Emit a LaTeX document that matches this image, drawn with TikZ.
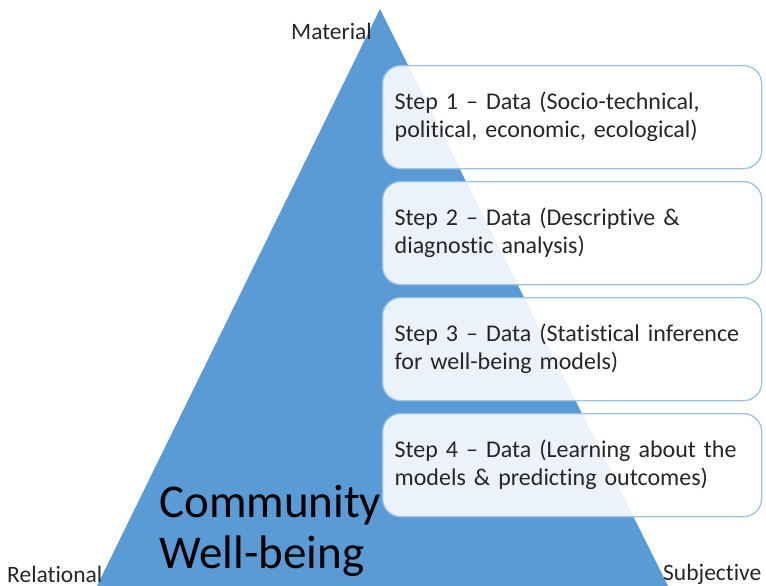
\documentclass[tikz,border=0pt]{standalone}
\usepackage{fontspec}
\setmainfont{Carlito}[Ligatures=NoCommon]
\definecolor{triblue}{HTML}{5B9BD5}
\definecolor{boxline}{HTML}{9DC3E6}
\definecolor{txt}{HTML}{262626}
\begin{document}
\begin{tikzpicture}[x=1pt,y=-1pt,
  stepbox/.style={draw=boxline, line width=1.3pt, fill=white, fill opacity=0.88, text opacity=1,
    rounded corners=18pt, minimum width=376pt, minimum height=103pt, anchor=north west,
    text width=355pt, align=left, inner xsep=12pt, text=txt,
    font=\fontsize{24}{28}\selectfont},
  corner/.style={text=txt, font=\fontsize{23.5}{26}\selectfont, inner sep=0pt, anchor=base west}]
\useasboundingbox (0,0) rectangle (766,586);
\begin{scope}
\clip (0,0) rectangle (766,586);
\fill[triblue] (380,9) -- (94,592) -- (671,592) -- cycle;
\end{scope}
\node[corner] (mat) at (291,40) {Material};
\node[corner] (rel) at (7,582) {Relational};
\node[corner] (sub) at (663,580) {Subjective};
\node[anchor=base west, inner sep=0pt, align=left, text=black,
  font=\fontsize{47}{51}\selectfont] (cwb) at (159,568) {Community\\Well-being};
\node[stepbox] (s1) at (382,65) {Step 1 – Data (Socio-technical,\\political, economic, ecological)};
\node[stepbox] (s2) at (382,181) {Step 2 – Data (Descriptive \&\\diagnostic analysis)};
\node[stepbox] (s3) at (382,297) {Step 3 – Data (Statistical inference\\for well-being models)};
\node[stepbox] (s4) at (382,413) {Step 4 – Data (Learning about the\\models \& predicting outcomes)};
\end{tikzpicture}
\end{document}
